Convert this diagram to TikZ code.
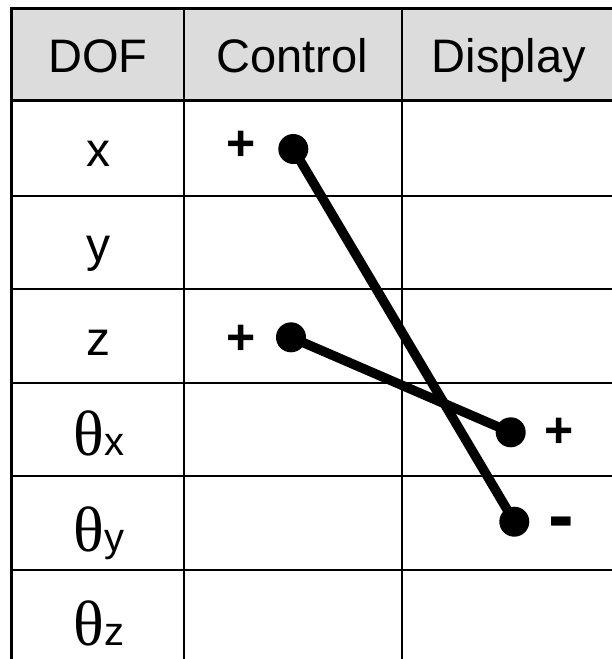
\documentclass[tikz,border=0pt]{standalone}
\usepackage{fontspec}
\setmainfont{Liberation Sans}
\newfontfamily\greekfont{Liberation Serif}
\definecolor{headgray}{HTML}{DCDCDC}
% an angular degree of freedom: serif theta followed by its axis letter
\newcommand\rotdof[1]{{\fontsize{64}{64}\selectfont\greekfont\symbol{"03B8}}{\fontsize{40}{40}\selectfont #1}}
\begin{document}
\begin{tikzpicture}[x=1pt,y=-1pt,
  grid/.style={line width=2.5pt},
  frame/.style={line width=3.2pt},
  head/.style={anchor=base, inner sep=0pt, font=\fontsize{47}{47}\selectfont},
  cell/.style={anchor=base, inner sep=0pt, font=\fontsize{48}{48}\selectfont},
  rot/.style={anchor=base, inner sep=0pt},
  dot/.style={circle, fill=black, minimum size=30pt, inner sep=0pt},
  link/.style={line width=9.5pt},
  plus/.style={anchor=base, inner sep=0pt, font=\fontsize{50}{50}\selectfont\bfseries},
  minus/.style={anchor=base, inner sep=0pt, font=\fontsize{77}{77}\selectfont\bfseries},
]
\fill[white] (0,0) rectangle (612,659);
\useasboundingbox (0,0) rectangle (612,659);

% header band
\fill[headgray] (11.7,8.5) rectangle (612,100.5);

% table rules
\foreach \y in {100.5,196,289,383,476,570}
  \draw[grid] (11.7,\y) -- (612,\y);
\foreach \x in {184,402}
  \draw[grid] (\x,8.5) -- (\x,659);
\draw[frame] (612,8.5) -- (11.7,8.5) -- (11.7,659);

% column headings
\node[head] (hdof) at (98,72.3) {DOF};
\node[head] (hctl) at (292,72.3) {Control};
\node[head] (hdsp) at (509,72.3) {Display};

% degrees of freedom
\node[cell] (rx) at (98,166.7) {x};
\node[cell] (ry) at (98,261) {y};
\node[cell] (rz) at (98,355) {z};
\node[rot] (rtx) at (99,455) {\rotdof{x}};
\node[rot] (rty) at (99,551.5) {\rotdof{y}};
\node[rot] (rtz) at (99,645.5) {\rotdof{z}};

% mapping end points
\node[dot] (cx) at (293.3,149) {};
\node[dot] (cz) at (291,337.3) {};
\node[dot] (dtx) at (510.7,432.3) {};
\node[dot] (dty) at (514.3,521.7) {};

% mapping links
\draw[link] (cx.center) -- (dty.center);
\draw[link] (cz.center) -- (dtx.center);

% signs
\node[plus] (scx) at (240.8,160.7) {+};
\node[plus] (scz) at (240.8,354.9) {+};
\node[plus] (stx) at (559,447.9) {+};
\node[minus] (sty) at (561.7,541) {-};
\end{tikzpicture}
\end{document}
